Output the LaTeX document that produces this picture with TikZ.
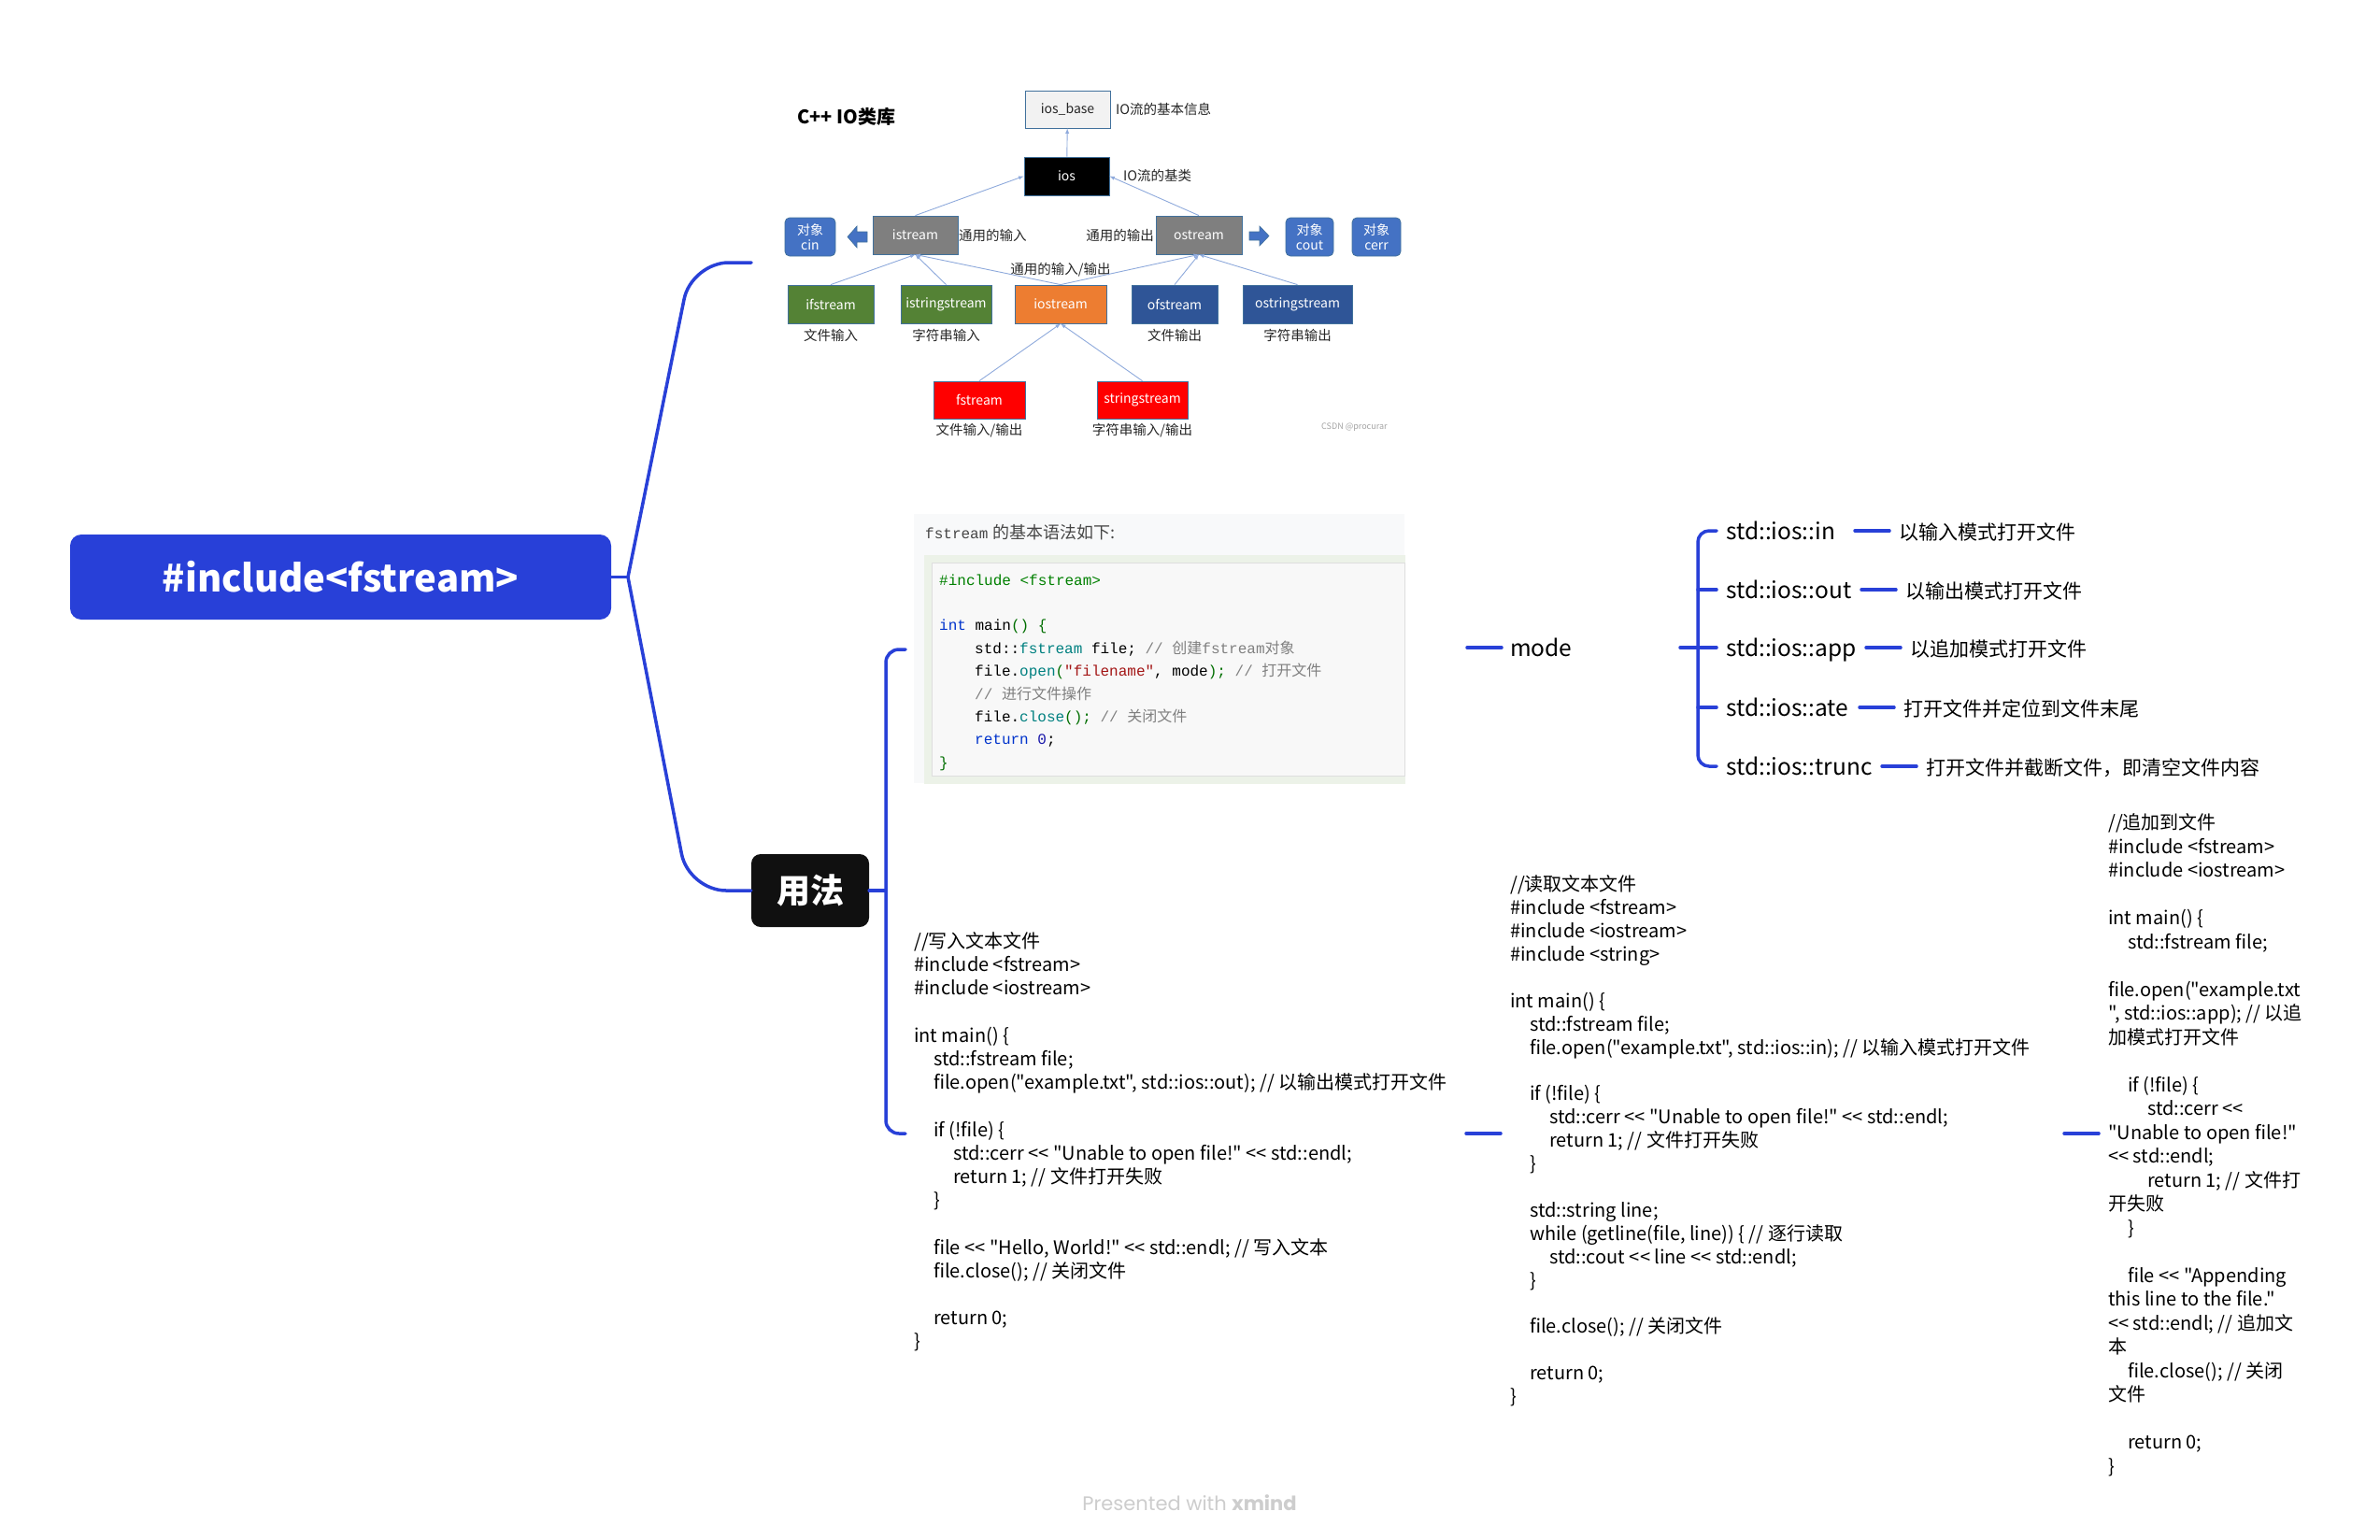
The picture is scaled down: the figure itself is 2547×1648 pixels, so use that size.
\documentclass[tikz,border=0pt]{standalone}
\usepackage{fontspec}
\usepackage{tikz}
\usetikzlibrary{positioning}

\newfontfamily\xmfont{Noto Sans CJK SC}
\newfontfamily\codefont{Liberation Mono}
\newfontfamily\brandfont{Poppins}

\definecolor{xblue}{RGB}{40,64,216}
\definecolor{usefill}{RGB}{16,16,16}
\definecolor{ioborder}{RGB}{65,113,156}
\definecolor{iolinkc}{RGB}{143,170,220}
\definecolor{iogray}{RGB}{127,127,127}
\definecolor{iocin}{RGB}{68,114,196}
\definecolor{iogreen}{RGB}{84,130,53}
\definecolor{ioorange}{RGB}{237,125,49}
\definecolor{ionavy}{RGB}{47,85,151}
\definecolor{iobase}{RGB}{242,242,242}
\definecolor{iotext}{RGB}{38,38,38}
\definecolor{shotbg}{RGB}{248,249,250}
\definecolor{shotedge}{RGB}{236,242,232}
\definecolor{shotcode}{RGB}{248,248,248}
\definecolor{shotline}{RGB}{222,222,222}
\definecolor{shottitle}{RGB}{70,70,70}
\definecolor{cppinc}{RGB}{0,128,0}
\definecolor{cppkwc}{RGB}{0,51,204}
\definecolor{cpptyc}{RGB}{0,128,128}
\definecolor{cppstrc}{RGB}{163,21,21}
\definecolor{cppcomc}{RGB}{128,128,128}
\definecolor{cpppunc}{RGB}{0,110,0}
\definecolor{cppnumc}{RGB}{25,23,170}
\definecolor{brandgray}{RGB}{205,205,205}

\newcommand\cppkw[1]{\textcolor{cppkwc}{#1}}
\newcommand\cppty[1]{\textcolor{cpptyc}{#1}}
\newcommand\cppstr[1]{\textcolor{cppstrc}{#1}}
\newcommand\cppcom[1]{\textcolor{cppcomc}{#1}}
\newcommand\cpppun[1]{\textcolor{cpppunc}{#1}}
\newcommand\codetab{\hspace*{38pt}}
\newcommand\txttab{\hspace*{21pt}}

\begin{document}
\begin{tikzpicture}[x=1pt, y=-1pt,
  branch/.style={draw=xblue, line width=3.5pt, line cap=round},
  iobox/.style={rectangle, draw=ioborder, line width=0.8pt, inner sep=0pt, minimum height=41pt, text=white, font=\xmfont\fontsize{14}{16}\selectfont},
  iolabel/.style={inner sep=0pt, text=iotext, font=\xmfont\fontsize{14.5}{16}\selectfont},
  iolink/.style={draw=iolinkc, line width=0.9pt, -latex},
  codetext/.style={anchor=west, inner sep=0pt, align=left, font=\xmfont\fontsize{20}{25.2}\selectfont},
  modeitem/.style={anchor=west, inner sep=0pt, text height=24pt, text depth=5pt, font=\xmfont\fontsize{24.5}{30}\selectfont},
  modedesc/.style={anchor=west, inner sep=0pt, text height=20pt, text depth=1pt, font=\xmfont\fontsize{21}{25}\selectfont}]

\fill[white] (0,0) rectangle (2547,1648);
\useasboundingbox (0,0) rectangle (2547,1648);

% Root topic
\node[rectangle, rounded corners=12pt, fill=xblue, minimum width=579pt, minimum height=91pt, text=white, font=\xmfont\bfseries\fontsize{40}{48}\selectfont] (root) at (364.5,617.5) {\#include<fstream>};

% Usage topic
\node[rectangle, rounded corners=10pt, fill=usefill, minimum width=126pt, minimum height=78pt, text=white, font=\xmfont\bfseries\fontsize{36}{40}\selectfont] (usage) at (867,953) {用法};

\coordinate (rootjoint) at (672,617.5);
\coordinate (iolibin) at (804,281);
\draw[branch] (root.east) -- (rootjoint);
\draw[branch, rounded corners=40pt] (rootjoint) -- (740,281) -- (iolibin);
\draw[branch, rounded corners=40pt] (rootjoint) -- (737,953) -- (usage.west);

\coordinate (usejoint) at (948,953);
\coordinate (syntaxin) at (969,695);
\coordinate (writein) at (969,1213);
\draw[branch] (usage.east) -- (usejoint);
\draw[branch, rounded corners=14pt] (syntaxin) -| (usejoint) |- (writein);

% IO library
\node[anchor=west, inner sep=0pt, font=\xmfont\bfseries\fontsize{20}{24}\selectfont] (iotitle) at (853,125) {C++ IO类库};

\node[iobox, fill=iobase, text=iotext, minimum width=91pt, minimum height=40pt] (iosbase) at (1142.5,117) {ios\_base};
\node[iobox, fill=black, minimum width=91pt] (ios) at (1141.5,188.5) {ios};
\node[iobox, fill=iogray, minimum width=91pt] (istream) at (979.5,251.5) {istream};
\node[iobox, fill=iogray, minimum width=92pt] (ostream) at (1283,251.5) {ostream};

\node[iobox, fill=iocin, rounded corners=5pt, minimum width=54pt, align=center] (cin) at (867,253.5) {对象\\cin};
\node[iobox, fill=iocin, rounded corners=5pt, minimum width=51pt, align=center] (cout) at (1401.5,253.5) {对象\\cout};
\node[iobox, fill=iocin, rounded corners=5pt, minimum width=52pt, align=center] (cerr) at (1473,253.5) {对象\\cerr};

\node[iobox, fill=iogreen, minimum width=92pt] (ifstream) at (889,325.5) {ifstream};
\node[iobox, fill=iogreen, minimum width=97pt] (istringstream) at (1012.5,325.5) {istringstream};
\node[iobox, fill=ioorange, minimum width=98pt] (iostream) at (1135,325.5) {iostream};
\node[iobox, fill=ionavy, minimum width=92pt] (ofstream) at (1257,325.5) {ofstream};
\node[iobox, fill=ionavy, minimum width=117pt] (ostringstream) at (1388.5,325.5) {ostringstream};

\node[iobox, fill=red, minimum width=98pt, minimum height=40pt] (fstream) at (1048,428) {fstream};
\node[iobox, fill=red, minimum width=97pt, minimum height=40pt] (stringstream) at (1222.5,428) {stringstream};

\node[iolabel, anchor=west] (iosbaselbl) at (1194,117) {IO流的基本信息};
\node[iolabel, anchor=west] (ioslbl) at (1202,188) {IO流的基类};
\node[iolabel, anchor=west] (istreamlbl) at (1026,252) {通用的输入};
\node[iolabel, anchor=east] (ostreamlbl) at (1235,252) {通用的输出};
\node[iolabel] (iostreamlbl) at (1135,289) {通用的输入/输出};
\node[iolabel, below=6pt of ifstream] (ifstreamlbl) {文件输入};
\node[iolabel, below=6pt of istringstream] (istringstreamlbl) {字符串输入};
\node[iolabel, below=6pt of ofstream] (ofstreamlbl) {文件输出};
\node[iolabel, below=6pt of ostringstream] (ostringstreamlbl) {字符串输出};
\node[iolabel, below=5pt of fstream] (fstreamlbl) {文件输入/输出};
\node[iolabel, below=5pt of stringstream] (stringstreamlbl) {字符串输入/输出};
\node[anchor=west, inner sep=0pt, text=brandgray!80!black, font=\xmfont\fontsize{9}{10}\selectfont] (watermark) at (1414,457) {CSDN @procurar};

\draw[iolink] (ios) -- (iosbase);
\draw[iolink] (istream.north) -- (ios.west);
\draw[iolink] (ostream.north) -- (ios.east);
\draw[iolink] (ifstream.north) -- (istream.south);
\draw[iolink] (istringstream.north) -- (istream.south);
\draw[iolink] (iostream.north) -- (istream.south);
\draw[iolink] (iostream.north) -- (ostream.south);
\draw[iolink] (ofstream.north) -- (ostream.south);
\draw[iolink] (ostringstream.north) -- (ostream.south);
\draw[iolink] (fstream.north) -- (iostream.south);
\draw[iolink] (stringstream.north) -- (iostream.south);

\draw[fill=iocin, draw=ioborder, line width=0.6pt] (907,253.5) -- (917,242) -- (917,248) -- (928,248) -- (928,259) -- (917,259) -- (917,265) -- cycle;
\draw[fill=iocin, draw=ioborder, line width=0.6pt] (1358,252.5) -- (1348,242) -- (1348,248) -- (1337,248) -- (1337,257) -- (1348,257) -- (1348,263) -- cycle;

% Syntax screenshot
\node[fill=shotbg, minimum width=525pt, minimum height=288pt, inner sep=0pt] (syntax) at (1240.5,694) {};
\draw[fill=shotedge, draw=shotedge] (989,594) rectangle (1503,838);
\draw[fill=shotcode, draw=shotline] (997,602) rectangle (1503,830);
\node[anchor=west, inner sep=0pt, text=shottitle, font=\fontsize{18}{20}\selectfont] (syntaxtitle) at (990,570) {{\codefont\fontsize{16}{20}\selectfont fstream} {\xmfont 的基本语法如下:}};
\node[anchor=west, inner sep=0pt, align=left, font=\codefont\fontsize{16}{24.4}\selectfont] (syntaxcode) at (1005,719.5) {%
\textcolor{cppinc}{\#include <fstream>}\\
\mbox{}\\
\cppkw{int} main\cpppun{() \{}\\
\codetab std::\cppty{fstream} file; \cppcom{// {\xmfont 创建}fstream{\xmfont 对象}}\\
\codetab file.\cppty{open}\cpppun{(}\cppstr{"filename"}, mode\cpppun{);} \cppcom{// {\xmfont 打开文件}}\\
\codetab\cppcom{// {\xmfont 进行文件操作}}\\
\codetab file.\cppty{close}\cpppun{();} \cppcom{// {\xmfont 关闭文件}}\\
\codetab\cppkw{return} \textcolor{cppnumc}{0};\\
\cpppun{\}}};

% Mode
\node[modeitem] (mode) at (1616,693) {mode};
\draw[branch] ([xshift=-46pt]mode.west) -- ([xshift=-9pt]mode.west);

\coordinate (modejoint) at (1817,693);
\draw[branch] ([xshift=-19pt]modejoint) -- (modejoint);

\node[modeitem] (iosin) at (1847,568) {std::ios::in};
\node[modeitem] (iosout) at (1847,631) {std::ios::out};
\node[modeitem] (iosapp) at (1847,693) {std::ios::app};
\node[modeitem] (iosate) at (1847,757) {std::ios::ate};
\node[modeitem] (iostrunc) at (1847,820) {std::ios::trunc};

\draw[branch, rounded corners=12pt] ([xshift=-10pt]iosin.west) -| (modejoint) |- ([xshift=-10pt]iostrunc.west);
\draw[branch] (modejoint |- iosout.west) -- ([xshift=-10pt]iosout.west);
\draw[branch] (modejoint |- iosapp.west) -- ([xshift=-10pt]iosapp.west);
\draw[branch] (modejoint |- iosate.west) -- ([xshift=-10pt]iosate.west);

\node[modedesc] (iosindesc) at (2032,568) {以输入模式打开文件};
\node[modedesc] (iosoutdesc) at (2039,631) {以输出模式打开文件};
\node[modedesc] (iosappdesc) at (2044,693) {以追加模式打开文件};
\node[modedesc] (iosatedesc) at (2037,757) {打开文件并定位到文件末尾};
\node[modedesc] (iostruncdesc) at (2061,820) {打开文件并截断文件，即清空文件内容};

\draw[branch] ([xshift=-47pt]iosindesc.west) -- ([xshift=-10pt]iosindesc.west);
\draw[branch] ([xshift=-47pt]iosoutdesc.west) -- ([xshift=-10pt]iosoutdesc.west);
\draw[branch] ([xshift=-47pt]iosappdesc.west) -- ([xshift=-10pt]iosappdesc.west);
\draw[branch] ([xshift=-47pt]iosatedesc.west) -- ([xshift=-10pt]iosatedesc.west);
\draw[branch] ([xshift=-47pt]iostruncdesc.west) -- ([xshift=-10pt]iostruncdesc.west);

% Write text file
\node[codetext] (writecode) at (978,1222) {%
//写入文本文件\\
\#include <fstream>\\
\#include <iostream>\\
\mbox{}\\
int main() \{\\
\txttab std::fstream file;\\
\txttab file.open("example.txt", std::ios::out); // 以输出模式打开文件\\
\mbox{}\\
\txttab if (!file) \{\\
\txttab\txttab std::cerr << "Unable to open file!" << std::endl;\\
\txttab\txttab return 1; // 文件打开失败\\
\txttab \}\\
\mbox{}\\
\txttab file << "Hello, World!" << std::endl; // 写入文本\\
\txttab file.close(); // 关闭文件\\
\mbox{}\\
\txttab return 0;\\
\}};

% Read text file
\coordinate (writeout) at (1569,1213);
\coordinate (readin) at (1606,1213);
\draw[branch] (writeout) -- (readin);
\node[codetext, font=\xmfont\fontsize{20}{24.9}\selectfont] (readcode) at (1616,1221) {%
//读取文本文件\\
\#include <fstream>\\
\#include <iostream>\\
\#include <string>\\
\mbox{}\\
int main() \{\\
\txttab std::fstream file;\\
\txttab file.open("example.txt", std::ios::in); // 以输入模式打开文件\\
\mbox{}\\
\txttab if (!file) \{\\
\txttab\txttab std::cerr << "Unable to open file!" << std::endl;\\
\txttab\txttab return 1; // 文件打开失败\\
\txttab \}\\
\mbox{}\\
\txttab std::string line;\\
\txttab while (getline(file, line)) \{ // 逐行读取\\
\txttab\txttab std::cout << line << std::endl;\\
\txttab \}\\
\mbox{}\\
\txttab file.close(); // 关闭文件\\
\mbox{}\\
\txttab return 0;\\
\}};

% Append to file
\coordinate (readout) at (2209,1213);
\coordinate (appendin) at (2246,1213);
\draw[branch] (readout) -- (appendin);
\node[codetext, font=\xmfont\fontsize{20}{25.5}\selectfont] (appendcode) at (2256,1225) {%
//追加到文件\\
\#include <fstream>\\
\#include <iostream>\\
\mbox{}\\
int main() \{\\
\txttab std::fstream file;\\
\mbox{}\\
file.open("example.txt\\
", std::ios::app); // 以追\\
加模式打开文件\\
\mbox{}\\
\txttab if (!file) \{\\
\txttab\txttab std::cerr <<\\
"Unable to open file!"\\
<< std::endl;\\
\txttab\txttab return 1; // 文件打\\
开失败\\
\txttab \}\\
\mbox{}\\
\txttab file << "Appending\\
this line to the file."\\
<< std::endl; // 追加文\\
本\\
\txttab file.close(); // 关闭\\
文件\\
\mbox{}\\
\txttab return 0;\\
\}};

% Footer
\node[text=brandgray, font=\brandfont\fontsize{21}{25}\selectfont] (footer) at (1273,1608) {Presented with \textbf{xmind}};

\end{tikzpicture}
\end{document}
